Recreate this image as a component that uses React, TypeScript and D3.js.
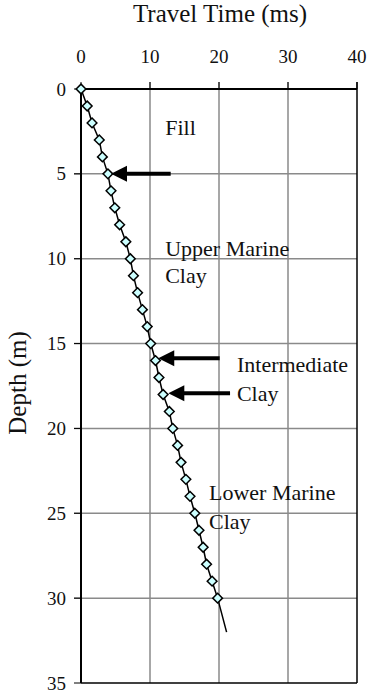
import React from "react";
import * as d3 from "d3";

const depths = [0, 1, 2, 3, 4, 5, 6, 7, 8, 9, 10, 11, 12, 13, 14, 15, 16, 17, 18, 19, 20, 21, 22, 23, 24, 25, 26, 27, 28, 29, 30];
const travelTimes = [0, 0.9, 1.6, 2.65, 3.1, 3.9, 4.35, 4.9, 5.6, 6.5, 7.15, 7.6, 8.2, 8.9, 9.6, 10.1, 10.8, 11.3, 11.9, 12.8, 13.3, 14.0, 14.5, 15.2, 15.8, 16.5, 17.1, 17.7, 18.2, 19.0, 19.8];
const lineEnd = { depth: 32, time: 21.1 };
const xTicks = [0, 10, 20, 30, 40];
const yTicks = [0, 5, 10, 15, 20, 25, 30, 35];

const labels = [
  { text: "Fill", time: 12.2, depth: 2.7 },
  { text: "Upper Marine", time: 12.2, depth: 9.85 },
  { text: "Clay", time: 12.2, depth: 11.45 },
  { text: "Intermediate", time: 22.6, depth: 16.7 },
  { text: "Clay", time: 22.6, depth: 18.4 },
  { text: "Lower Marine", time: 18.55, depth: 24.2 },
  { text: "Clay", time: 18.55, depth: 25.9 },
];

const arrows = [
  { depth: 5.0, tip: 4.35, tail: 13.0 },
  { depth: 15.87, tip: 11.2, tail: 20.1 },
  { depth: 17.93, tip: 12.65, tail: 21.6 },
];

const W = 370;
const H = 697;
const left = 81;
const right = 357;
const top = 89;
const bottom = 683;

const FONT = '"Liberation Serif", "Times New Roman", Times, serif';

export default function App() {
  const x = d3.scaleLinear().domain([0, 40]).range([left, right]);
  const y = d3.scaleLinear().domain([0, 35]).range([top, bottom]);
  const ts = { fontFamily: FONT };

  const pts = depths.map((d, i) => ({ depth: d, time: travelTimes[i] }));
  const lineGen = d3
    .line<{ depth: number; time: number }>()
    .x((p) => x(p.time))
    .y((p) => y(p.depth));
  const linePath = lineGen([...pts, lineEnd]) || "";

  const diamond = d3.symbol().type(d3.symbolDiamond2).size(60)() || "";

  return (
    <svg width={W} height={H} style={{ position: "absolute", left: 0, top: 0, background: "#fff" }}>
      {xTicks.slice(1, -1).map((t) => (
        <line key={"gx" + t} x1={x(t)} x2={x(t)} y1={top - 7} y2={bottom} stroke="#8a8a8a" strokeWidth={1.5} />
      ))}
      {yTicks.slice(1, -1).map((t) => (
        <line key={"gy" + t} x1={left - 7} x2={right} y1={y(t)} y2={y(t)} stroke="#8a8a8a" strokeWidth={1.5} />
      ))}
      <line x1={left} x2={right} y1={top} y2={top} stroke="#000" strokeWidth={2} />
      <line x1={left} x2={left} y1={top} y2={bottom} stroke="#000" strokeWidth={2} />
      <line x1={right} x2={right} y1={top - 7} y2={bottom} stroke="#000" strokeWidth={1.5} />
      <line x1={left} x2={right} y1={bottom} y2={bottom} stroke="#000" strokeWidth={1.5} />
      {xTicks.map((t) => (
        <line key={"tx" + t} x1={x(t)} x2={x(t)} y1={top - 7} y2={top} stroke="#000" strokeWidth={1} />
      ))}
      {yTicks.map((t) => (
        <line key={"ty" + t} x1={left - 7} x2={left} y1={y(t)} y2={y(t)} stroke="#000" strokeWidth={1} />
      ))}
      {xTicks.map((t) => (
        <text key={"lx" + t} x={x(t)} y={63} fontSize={19} textAnchor="middle" fill="#111" style={ts}>
          {t}
        </text>
      ))}
      {yTicks.map((t) => (
        <text key={"ly" + t} x={66} y={y(t) + 6.5} fontSize={19} textAnchor="end" fill="#111" style={ts}>
          {t}
        </text>
      ))}
      <text x={220} y={22} fontSize={25} textAnchor="middle" fill="#111" style={ts}>
        Travel Time (ms)
      </text>
      <text transform={`translate(26, ${383}) rotate(-90)`} fontSize={25} textAnchor="middle" fill="#111" style={ts}>
        Depth (m)
      </text>
      <path d={linePath} fill="none" stroke="#000" strokeWidth={1.5} />
      {pts.map((p, i) => (
        <path key={"p" + i} d={diamond} transform={`translate(${x(p.time)},${y(p.depth)})`} fill="#ccffff" stroke="#000" strokeWidth={1.5} />
      ))}
      {arrows.map((a, i) => {
        const yy = y(a.depth);
        const tx = x(a.tip);
        return (
          <g key={"a" + i}>
            <line x1={tx + 12} x2={x(a.tail)} y1={yy} y2={yy} stroke="#000" strokeWidth={4} />
            <path d={`M${tx},${yy} L${tx + 16},${yy - 8} L${tx + 16},${yy + 8} Z`} fill="#000" />
          </g>
        );
      })}
      {labels.map((l, i) => (
        <text key={"t" + i} x={x(l.time)} y={y(l.depth)} fontSize={22} fill="#111" style={ts}>
          {l.text}
        </text>
      ))}
    </svg>
  );
}
